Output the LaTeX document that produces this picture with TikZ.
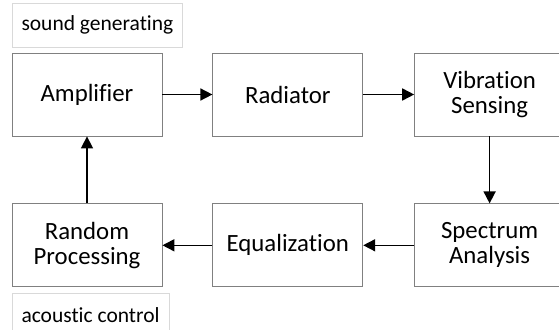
\documentclass[tikz,border=0pt]{standalone}
\usepackage{fontspec}
\setmainfont[Ligatures=NoCommon]{Carlito}
\usetikzlibrary{arrows.meta, positioning}

\begin{document}
\begin{tikzpicture}[
    node distance=67pt and 50pt,
    box/.style={
        draw=black!50,
        line width=0.8pt,
        align=center,
        font=\fontsize{24.8}{25}\selectfont,
        minimum width=150pt,
        minimum height=83pt,
        inner sep=0pt
    },
    tag/.style={
        draw=black!15,
        line width=0.8pt,
        font=\fontsize{21.5}{24}\selectfont,
        inner xsep=9.5pt,
        minimum height=44pt
    },
    arrow/.style={
        -{Triangle[length=12pt,width=12pt]},
        line width=1.6pt
    }
]
\useasboundingbox (0,0) rectangle (559pt,-329pt);

\node[box] (amp) at (87pt,-94.5pt) {Amplifier};
\node[box, right=of amp] (rad) {Radiator};
\node[box, right=51pt of rad] (vib) {Vibration\\Sensing};

\node[box, below=of vib] (spec) {Spectrum\\Analysis};
\node[box, below=of rad] (equ) {Equalization};
\node[box, below=of amp] (rand) {Random\\Processing};

\node[tag, above right=5pt and 0pt of amp.north west, anchor=south west] (sound) {sound generating};
\node[tag, below right=6pt and 0pt of rand.south west, anchor=north west] (acoustic) {acoustic control};

\draw[arrow] (amp) -- (rad);
\draw[arrow] (rad) -- (vib);
\draw[arrow] (vib) -- (spec);
\draw[arrow] (spec) -- (equ);
\draw[arrow] (equ) -- (rand);
\draw[arrow] (rand) -- (amp);

\end{tikzpicture}
\end{document}
